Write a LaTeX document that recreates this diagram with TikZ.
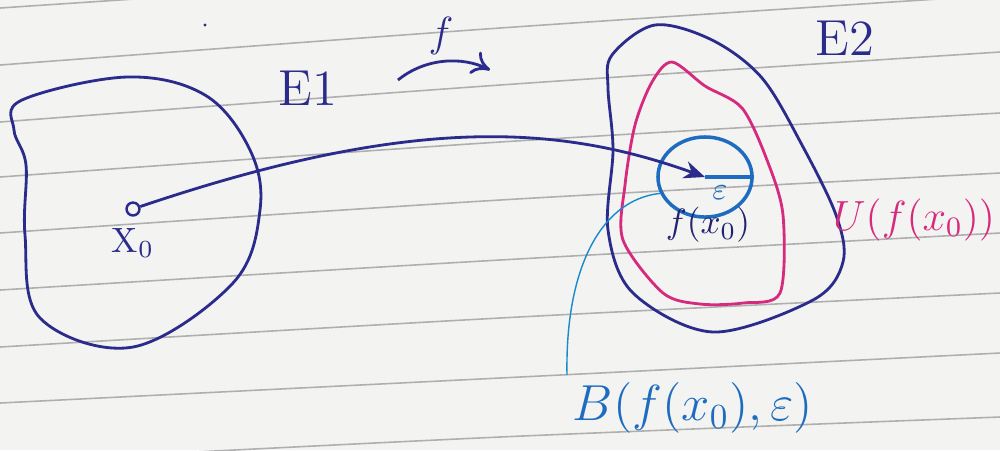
\documentclass[tikz,border=0pt]{standalone}
\usetikzlibrary{arrows.meta,shapes.geometric}
\definecolor{paper}{HTML}{F3F3F1}
\definecolor{rulecol}{HTML}{8C8C8C}
\definecolor{ink}{HTML}{2B2B8C}
\definecolor{pinkink}{HTML}{D62A7E}
\definecolor{blueink}{HTML}{1E6CC0}
\begin{document}
\begin{tikzpicture}[x=0.01cm,y=-0.01cm,
  rule/.style={draw=rulecol!70,line width=0.45pt},
  region/.style={draw=ink,line width=0.8pt},
  nbhd/.style={draw=pinkink,line width=0.8pt},
  ball/.style={draw=blueink,line width=1pt,ellipse,minimum width=0.94cm,minimum height=0.80cm,inner sep=0pt},
  lab/.style={text=ink,inner sep=1pt},
  conn/.style={draw=ink,line width=0.8pt}]
\useasboundingbox (0,0) rectangle (1000,450);
\fill[paper] (0,0) rectangle (1000,450);
% ruled paper lines
\foreach \a/\b/\c in {8/-25/-55, 65/28/-5, 122/85/52, 177/142/113, 233/200/173, 290/260/233, 347/318/293, 403/378/353, 462/437/417}
  \draw[rule] plot[smooth] coordinates {(0,\a) (500,\b) (1000,\c)};
% stray dot
\fill[ink] (205,25) circle[radius=1.6];
% E1 region
\draw[region] plot[smooth cycle,tension=0.6] coordinates {(22,100) (127,77) (205,95) (250,150) (260,210) (233,283) (133,347) (40,318) (25,235) (26,165) (14,130)};
% E2 region
\draw[region] plot[smooth cycle,tension=0.55] coordinates {(612,55) (655,25) (712,40) (762,78) (802,145) (836,215) (843,262) (813,300) (713,332) (633,293) (608,230) (613,150) (608,88)};
% U region
\draw[nbhd] plot[smooth cycle,tension=0.5] coordinates {(672,62) (705,86) (742,108) (767,160) (783,215) (780,293) (743,303) (700,304) (663,293) (623,240) (625,185) (635,125) (652,82)};
% nodes
\node[draw=ink,circle,line width=0.7pt,inner sep=1.3pt] (x0) at (133,209) {};
\node[lab] (x0lab) at (133,243) {X$_0$};
\node[ball] (B) at (705,177) {};
\node[lab,text=blueink,font=\small] (eps) at (720,193) {$\varepsilon$};
\node[lab,text=ink!80!black] (fx0) at (708,225) {$f(x_0)$};
\node[lab,font=\Large] (E1) at (308,88) {E1};
\node[lab,font=\Large] (E2) at (845,38) {E2};
\node[lab,font=\large] (flab) at (441,36) {$f$};
\node[lab,text=pinkink,font=\fontsize{12}{14}\selectfont,anchor=west] (Ulab) at (829,220) {$U(f(x_0))$};
\node[lab,text=blueink,font=\Large] (Blab) at (693,408) {$B(f(x_0),\varepsilon)$};
% f arrow
\coordinate (fa) at (398,80);
\coordinate (fb) at (490,70);
\draw[conn,-{To[length=5pt,width=7pt]}] (fa) .. controls (425,58) and (462,56) .. (fb);
% map connector x0 -> f(x0)
\draw[conn,-{Stealth[length=6pt,width=5pt]}] (x0) .. controls (414,114) and (560,125) .. (B.center);
% radius
\draw[draw=blueink,line width=1pt] (B.center) -- (B.east);
% leader from B label to ball
\coordinate (lead) at (567,375);
\draw[draw=blueink!80!cyan,line width=0.4pt] (lead) .. controls (565,270) and (600,200) .. (B.200);
\end{tikzpicture}
\end{document}
